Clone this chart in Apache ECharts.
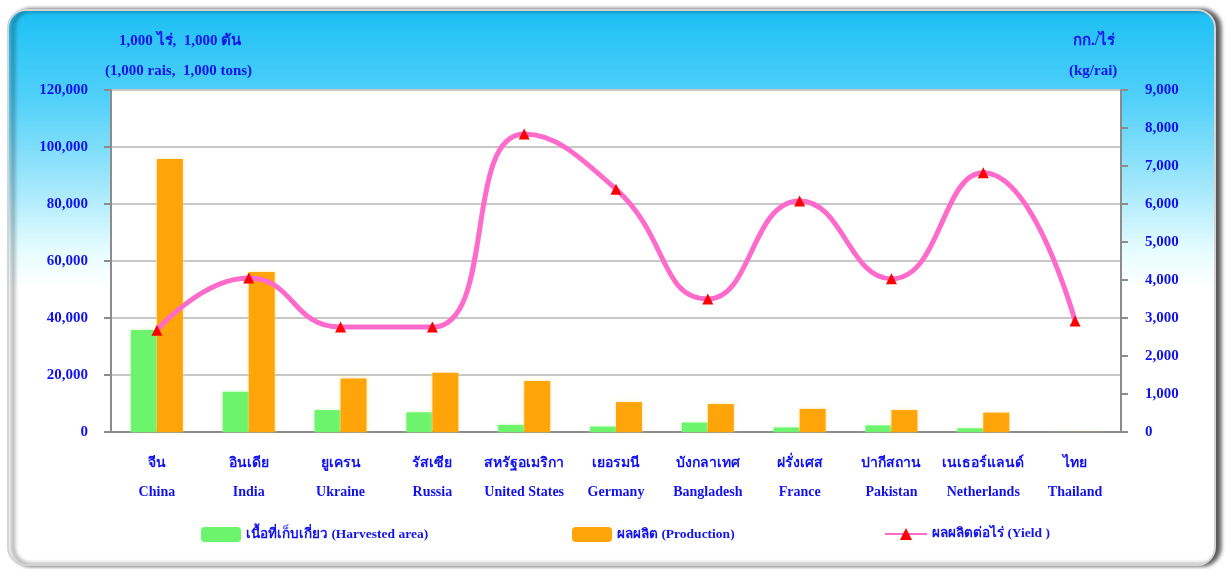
<!DOCTYPE html>
<html>
<head>
<meta charset="utf-8">
<script src="https://cdn.jsdelivr.net/npm/echarts@6/dist/echarts.min.js"></script>
<style>
  html, body { margin: 0; padding: 0; background: #fff; }
  #chart { width: 1226px; height: 569px; }
</style>
</head>
<body>
<div id="chart"></div>
<script>
  // ข้อมูล (1,000 ไร่ / 1,000 ตัน / กก.ต่อไร่)
  const countriesTh = ['จีน', 'อินเดีย', 'ยูเครน', 'รัสเซีย', 'สหรัฐอเมริกา', 'เยอรมนี', 'บังกลาเทศ', 'ฝรั่งเศส', 'ปากีสถาน', 'เนเธอร์แลนด์', 'ไทย']
  const countriesEn = ['China', 'India', 'Ukraine', 'Russia', 'United States', 'Germany', 'Bangladesh', 'France', 'Pakistan', 'Netherlands', 'Thailand']
  const harvestedArea = [35800, 14100, 7700, 6900, 2500, 1900, 3300, 1600, 2300, 1300, 30]
  const production = [95800, 56100, 18800, 20800, 17900, 10500, 9800, 8100, 7700, 6800, 40]
  const yieldPerRai = [2680, 4050, 2760, 2760, 7840, 6390, 3500, 6080, 4030, 6820, 2920]

  const seriesNames = ['เนื้อที่เก็บเกี่ยว (Harvested area)', 'ผลผลิต (Production)', 'ผลผลิตต่อไร่ (Yield )']

  const blue = '#1212ee'
  const serif = '"Liberation Serif", "Times New Roman", serif'
  const fmt = v => String(v).replace(/\B(?=(\d{3})+(?!\d))/g, ',')

  const chart = echarts.init(document.getElementById('chart'))
  const legendText = { color: blue, fontFamily: serif, fontWeight: 'bold', fontSize: 13.5 }

  const option = {
    animation: false,
    backgroundColor: '#fff',
    graphic: [
      {
        type: 'rect',
        z: -10,
        shape: { x: 8, y: 10, width: 1207, height: 555, r: 18 },
        style: {
          fill: new echarts.graphic.LinearGradient(0, 0, 0, 1, [
            { offset: 0, color: '#1cbff4' },
            { offset: 0.16, color: '#50d0f9' },
            { offset: 0.32, color: '#a4e8fc' },
            { offset: 0.43, color: '#e4fcff' },
            { offset: 0.5, color: '#ffffff' },
            { offset: 1, color: '#ffffff' }
          ]),
          stroke: '#d4d4d4',
          lineWidth: 2,
          shadowColor: 'rgba(0,0,0,0.65)',
          shadowBlur: 4,
          shadowOffsetX: 5,
          shadowOffsetY: 0
        }
      },
      { type: 'text', left: 119, top: 34, style: { text: '1,000 ไร่,  1,000 ตัน', fill: blue, font: 'bold 15px ' + serif } },
      { type: 'text', left: 105, top: 64, style: { text: '(1,000 rais,  1,000 tons)', fill: blue, font: 'bold 15px ' + serif } },
      { type: 'text', left: 1073, top: 34, style: { text: 'กก./ไร่', fill: blue, font: 'bold 15px ' + serif } },
      { type: 'text', left: 1069, top: 64, style: { text: '(kg/rai)', fill: blue, font: 'bold 15px ' + serif } }
    ],
    grid: {
      left: 111, right: 105, top: 90, bottom: 137,
      show: true, backgroundColor: '#fff', borderWidth: 0
    },
    legend: [
      { data: [seriesNames[0]], left: 196, top: 522, itemWidth: 40, itemHeight: 15, textStyle: legendText },
      { data: [seriesNames[1]], left: 567, top: 522, itemWidth: 40, itemHeight: 15, textStyle: legendText },
      { data: [seriesNames[2]], left: 879, top: 522, itemWidth: 42, itemHeight: 15, textStyle: legendText }
    ],
    xAxis: {
      type: 'category',
      data: countriesEn,
      axisLine: { lineStyle: { color: '#8c8c8c', width: 2 } },
      axisTick: { length: 6, lineStyle: { color: '#8c8c8c', width: 2 } },
      axisLabel: {
        margin: 17,
        interval: 0,
        lineHeight: 29,
        color: blue,
        fontFamily: serif,
        fontWeight: 'bold',
        fontSize: 14,
        formatter: (v, i) => countriesTh[i] + '\n' + v
      }
    },
    yAxis: [
      {
        type: 'value',
        min: 0, max: 120000, interval: 20000,
        axisLine: { show: true, lineStyle: { color: '#8c8c8c', width: 2 } },
        axisTick: { show: true, length: 7, lineStyle: { color: '#8c8c8c', width: 2 } },
        splitLine: { lineStyle: { color: '#c8c8c8', width: 2 } },
        axisLabel: { margin: 23, color: blue, fontFamily: serif, fontWeight: 'bold', fontSize: 15, formatter: fmt }
      },
      {
        type: 'value',
        min: 0, max: 9000, interval: 1000,
        axisLine: { show: true, lineStyle: { color: '#8c8c8c', width: 2 } },
        axisTick: { show: true, length: 7, lineStyle: { color: '#8c8c8c', width: 2 } },
        splitLine: { show: false },
        axisLabel: { margin: 24, color: blue, fontFamily: serif, fontWeight: 'bold', fontSize: 15, formatter: fmt }
      }
    ],
    series: [
      {
        name: seriesNames[0],
        type: 'bar',
        data: harvestedArea,
        barWidth: 26,
        barGap: '0%',
        itemStyle: { color: '#6cf46c', shadowColor: 'rgba(180,255,160,0.6)', shadowBlur: 4 }
      },
      {
        name: seriesNames[1],
        type: 'bar',
        data: production,
        barWidth: 26,
        itemStyle: { color: '#ffa50a', shadowColor: 'rgba(255,220,120,0.6)', shadowBlur: 4 }
      },
      {
        name: seriesNames[2],
        type: 'line',
        yAxisIndex: 1,
        data: yieldPerRai,
        smooth: 0.5,
        symbol: 'triangle',
        symbolSize: 11,
        lineStyle: { color: '#ff6acb', width: 5 },
        itemStyle: { color: '#ff0000' },
        z: 5
      }
    ]
  }
  chart.setOption(option)
</script>
</body>
</html>
